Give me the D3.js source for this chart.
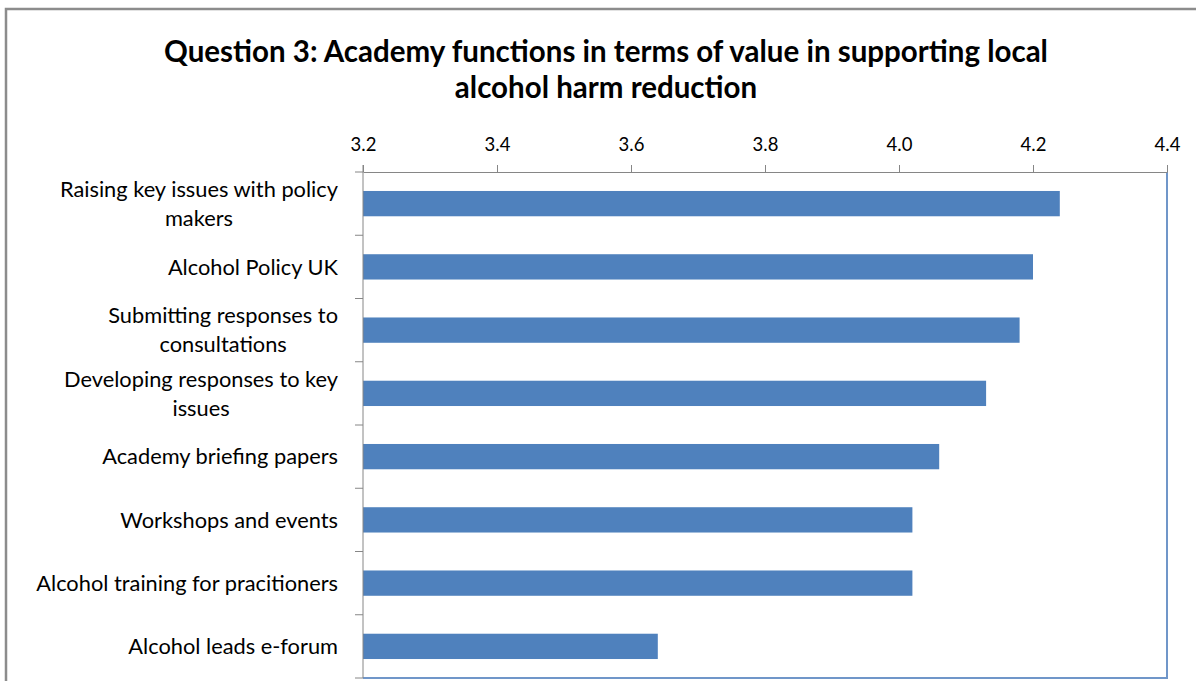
<!DOCTYPE html>
<html><head><meta charset="utf-8">
<script src="https://cdn.jsdelivr.net/npm/d3@7/dist/d3.min.js"></script>
<style>
html,body{margin:0;padding:0;background:#fff;}
svg{display:block;font-family:Lato,"Open Sans",sans-serif;}
</style></head>
<body>
<svg id="chart" width="1196" height="681"></svg>
<script>
const categories = [
  "Raising key issues with policy\nmakers",
  "Alcohol Policy UK",
  "Submitting responses to\nconsultations",
  "Developing responses to key\nissues",
  "Academy briefing papers",
  "Workshops and events",
  "Alcohol training for pracitioners",
  "Alcohol leads e-forum"
];
const values = [4.24, 4.20, 4.18, 4.13, 4.06, 4.02, 4.02, 3.64];
const xTicks = [3.2, 3.4, 3.6, 3.8, 4.0, 4.2, 4.4];
const titleLines = ["Question 3: Academy functions in terms of value in supporting local", "alcohol harm reduction"];

const svg = d3.select("#chart");
const W = 1196, H = 681;
const plot = {left: 363, right: 1167, top: 172, bottom: 678};

// outer chart frame
svg.append("rect").attr("x", 6).attr("y", 9).attr("width", W + 10).attr("height", H + 10)
  .attr("fill", "#fff").attr("stroke", "#8c8c8c").attr("stroke-width", 2.5);

// title
const title = svg.append("text").attr("text-anchor", "middle")
  .attr("font-weight", "bold").attr("font-size", 29.5).attr("fill", "#000");
titleLines.forEach((t, i) => {
  title.append("tspan").attr("x", 606).attr("y", 62 + i * 36).text(t);
});

const x = d3.scaleLinear().domain([3.2, 4.4]).range([plot.left, plot.right]);
const y = d3.scaleBand().domain(categories).range([plot.top, plot.bottom]).paddingInner(0.6).paddingOuter(0.3);

// bars
svg.append("g").selectAll("rect").data(values).join("rect")
  .attr("x", x(3.2))
  .attr("y", (d, i) => y(categories[i]))
  .attr("width", d => x(d) - x(3.2))
  .attr("height", y.bandwidth())
  .attr("fill", "#4f81bd");

// plot area right & bottom border (blue)
svg.append("path")
  .attr("d", `M${plot.right},${plot.top}V${plot.bottom}H${plot.left}`)
  .attr("fill", "none").attr("stroke", "#7096c9").attr("stroke-width", 2);

// top axis
const xAxis = d3.axisTop(x).tickValues(xTicks).tickFormat(d3.format(".1f")).tickSize(7).tickSizeOuter(0);
const gx = svg.append("g").attr("transform", `translate(0,${plot.top})`).call(xAxis);
gx.select(".domain").attr("stroke", "#868686");
gx.selectAll(".tick line").attr("stroke", "#868686");
gx.selectAll(".tick text").attr("font-size", 18.5).attr("fill", "#000").attr("y", -21)
  .attr("font-family", "Lato, sans-serif");

// left axis: line + ticks at band boundaries
const gy = svg.append("g");
gy.append("line").attr("x1", plot.left).attr("x2", plot.left).attr("y1", plot.top - 7).attr("y2", plot.bottom)
  .attr("stroke", "#868686");
const boundaries = d3.range(categories.length + 1).map(i => plot.top + i * (plot.bottom - plot.top) / categories.length);
gy.selectAll("line.tk").data(boundaries).join("line").attr("class", "tk")
  .attr("x1", plot.left - 8).attr("x2", plot.left).attr("y1", d => d).attr("y2", d => d)
  .attr("stroke", "#868686");

// category labels
const labelRight = 338;
const lineGap = 29;
categories.forEach((c, i) => {
  const lines = c.split("\n");
  const cy = y(c) + y.bandwidth() / 2;
  const g = svg.append("text").attr("font-size", 21.8).attr("fill", "#000");
  const tspans = lines.map((ln, j) =>
    g.append("tspan").text(ln)
      .attr("y", cy + (j - (lines.length - 1) / 2) * lineGap)
      .attr("dy", "0.35em"));
  // block right aligned, lines centred within block
  const widths = tspans.map(t => t.node().getComputedTextLength());
  const maxW = d3.max(widths);
  g.attr("text-anchor", "middle");
  tspans.forEach(t => t.attr("x", labelRight - maxW / 2));
});
</script>
</body></html>
